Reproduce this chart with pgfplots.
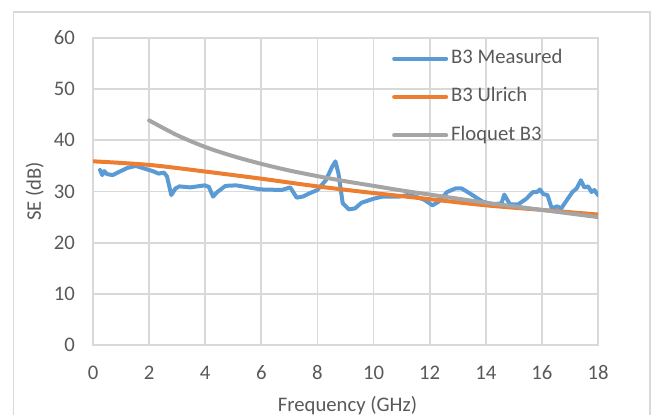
\documentclass[border=0pt]{standalone}
\usepackage{pgfplots}
\pgfplotsset{compat=1.18}
\usepackage{fontspec}
\setmainfont{Carlito}

\definecolor{seBlue}{HTML}{5B9BD5}
\definecolor{seOrange}{HTML}{ED7D31}
\definecolor{seGray}{HTML}{A5A5A5}
\definecolor{gridGray}{HTML}{D9D9D9}
\definecolor{textGray}{HTML}{595959}

\newcommand{\chartfont}{\fontsize{20.7bp}{24bp}\selectfont}

\begin{document}
\begin{tikzpicture}
\useasboundingbox (0,0) rectangle (652bp,415bp);
\begin{scope}
  \clip (0,0) rectangle (652bp,415bp);
  % outer chart frame
  \draw[gridGray, line width=1.4bp] (13.5bp,-20bp) rectangle (650bp,403bp);
\end{scope}
\begin{axis}[
  at={(93bp,70bp)}, anchor=south west,
  scale only axis, width=505bp, height=307bp,
  xmin=0, xmax=18, ymin=0, ymax=60,
  xtick={0,2,...,18}, ytick={0,10,...,60},
  grid=major,
  major grid style={gridGray, line width=1.7bp},
  axis line style={gridGray, line width=1.7bp},
  tick style={draw=none},
  /pgf/number format/assume math mode=true,
  ticklabel style={font=\chartfont, text=textGray, inner sep=0pt},
  xticklabel style={anchor=center, yshift=-27.7bp},
  yticklabel style={anchor=east, xshift=-18bp},
  xlabel={Frequency (GHz)},
  xlabel style={font=\chartfont, text=textGray, at={(rel axis cs:0.5,0)}, anchor=base, yshift=-66bp, xshift=2bp, inner sep=0pt},
  ylabel={SE (dB)},
  ylabel style={font=\chartfont, text=textGray, at={(rel axis cs:0,0.5)}, anchor=center, yshift=58.3bp, inner sep=0pt},
  legend style={draw=none, fill=none, at={(rel axis cs:0.592,0.966)}, anchor=north west,
    font=\chartfont, text=textGray, inner sep=0pt, row sep=18.3bp, column sep=3bp,
    nodes={inner sep=0pt, text height=15bp, text depth=5bp}},
  legend cell align=left,
  legend image code/.code={\draw[#1, line width=4bp] (0bp,0bp) -- (52bp,0bp);},
  every axis plot/.append style={line width=4bp, line join=round, line cap=round},
]
% measured shielding effectiveness
\addplot[seBlue] coordinates {
(0.25,34.2) (0.33,33.2) (0.40,34.0) (0.50,33.4) (0.70,33.2) (0.92,33.8)
(1.22,34.6) (1.52,35.0) (1.82,34.5) (2.12,34.0) (2.34,33.5) (2.53,33.7)
(2.64,32.9) (2.79,29.3) (2.94,30.6) (3.08,31.0) (3.46,30.8) (3.98,31.2)
(4.13,30.9) (4.28,29.0) (4.43,29.9) (4.72,31.1) (5.10,31.2) (5.54,30.8)
(5.99,30.4) (6.73,30.3) (7.03,30.8) (7.26,28.8) (7.48,29.0) (7.70,29.6)
(8.00,30.3) (8.30,32.2) (8.52,34.8) (8.64,35.9) (8.75,33.5) (8.90,27.7)
(9.12,26.5) (9.34,26.7) (9.57,27.8) (10.01,28.6) (10.31,29.0) (10.90,29.0)
(11.20,29.3) (11.50,29.0) (11.80,28.4) (12.10,27.3) (12.32,28.0) (12.62,29.9)
(12.92,30.6) (13.14,30.6) (13.44,29.6) (13.89,28.0) (14.26,27.5) (14.56,27.7)
(14.66,29.4) (14.86,27.5) (15.16,27.5) (15.45,28.6) (15.68,29.9) (15.83,29.9)
(15.93,30.4) (16.05,29.5) (16.20,29.3) (16.35,26.7) (16.54,27.1) (16.69,26.7)
(16.90,28.4) (17.09,29.9) (17.24,30.6) (17.39,32.2) (17.51,30.8) (17.65,31.0)
(17.77,29.9) (17.87,30.3) (18.00,29.3)
};
\addlegendentry{B3 Measured}
% Ulrich model
\addplot[seOrange, smooth] coordinates {
(0,35.9) (2,35.2) (4,33.9) (6,32.5) (8,31.0) (10,29.7) (12,28.5) (14,27.3) (16,26.4) (18,25.5)
};
\addlegendentry{B3 Ulrich}
% Floquet simulation
\addplot[seGray, smooth] coordinates {
(2,43.9) (3,41.0) (4,38.7) (5,36.9) (6,35.4) (7,34.1) (8,33.0) (9,32.0) (10,31.1)
(11,30.2) (12,29.4) (13,28.6) (14,27.8) (15,27.1) (16,26.4) (17,25.7) (18,25.0)
};
\addlegendentry{Floquet B3}
\end{axis}
\end{tikzpicture}
\end{document}
